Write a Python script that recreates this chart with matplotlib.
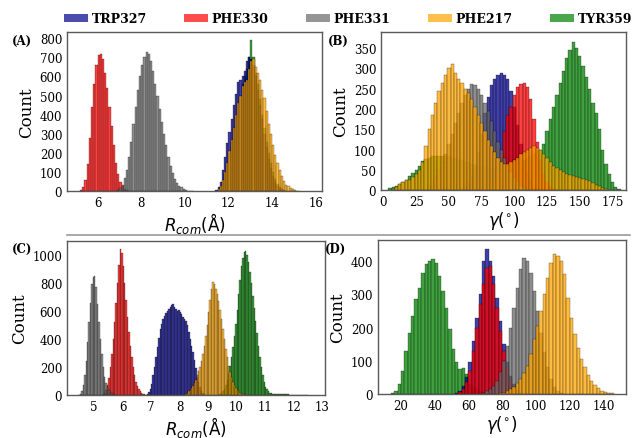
import numpy as np
import matplotlib
matplotlib.use("Agg")
import matplotlib.pyplot as plt
from matplotlib.patches import Patch
from matplotlib.lines import Line2D

plt.rcParams['font.family'] = ['DejaVu Serif']
plt.rcParams['mathtext.fontset'] = 'dejavusans'

NAMES = ['TRP327', 'PHE330', 'PHE331', 'PHE217', 'TYR359']
COLORS = {'TRP327': 'darkblue', 'PHE330': 'red', 'PHE331': 'dimgray',
          'PHE217': 'orange', 'TYR359': 'green'}

# ---- panel A : R_com, bin width 0.1 A, (first bin left edge, counts)
A_STEP = 0.1
A_TRP327 = (11.4, [5, 20, 50, 110, 180, 250, 310, 380, 450, 510, 570, 580, 600, 630, 680, 700,
                   690, 660, 600, 530, 450, 380, 300, 230, 170, 120, 80, 50, 30, 18, 10, 5])
A_PHE330 = (5.2, [5, 20, 60, 140, 280, 440, 560, 660, 710, 720, 690, 620, 540, 440, 340, 240,
                  150, 90, 50, 25, 12, 6, 3])
A_PHE331 = (6.9, [5, 15, 35, 70, 110, 180, 260, 350, 440, 530, 600, 660, 700, 730, 720, 680,
                  630, 560, 500, 430, 360, 300, 240, 180, 130, 95, 65, 45, 30, 20, 12, 8, 4, 3, 2])
A_PHE217 = (11.4, [3, 10, 30, 60, 100, 150, 210, 270, 330, 400, 460, 500, 550, 570, 580, 640,
                   680, 690, 650, 620, 580, 530, 490, 420, 350, 300, 240, 190, 150, 110, 80, 55,
                   35, 25, 15, 10, 6, 4, 2])
A_TYR359 = (11.5, [5, 20, 50, 90, 140, 200, 260, 320, 390, 450, 500, 560, 600, 640, 700, 790,
                   700, 620, 560, 480, 400, 330, 260, 200, 150, 100, 65, 40, 22, 12, 6])

# ---- panel B : gamma, bin width 2.5 deg
B_STEP = 2.5
B_TRP327 = (58.75, [5, 10, 20, 35, 60, 95, 140, 190, 230, 260, 275, 285, 290, 285, 275, 245,
                    205, 160, 115, 75, 45, 25, 12, 5])
B_PHE330 = (78.75, [5, 12, 25, 50, 90, 145, 185, 205, 235, 255, 262, 265, 255, 225, 175, 120,
                    75, 40, 20, 8, 3])
B_PHE331 = (33.75, [10, 20, 35, 50, 70, 90, 115, 140, 165, 190, 215, 235, 250, 262, 260, 250,
                    235, 215, 195, 170, 145, 120, 100, 80, 60, 45, 30, 20, 12, 6, 3])
B_PHE217 = (6.25, [3, 8, 15, 20, 25, 25, 32, 40, 50, 70, 110, 150, 185, 215, 245, 265, 285, 300,
                   310, 290, 275, 265, 250, 240, 225, 205, 185, 165, 145, 125, 110, 95, 80, 70,
                   65, 65, 70, 75, 80, 90, 95, 100, 105, 110, 105, 100, 90, 80, 70, 60, 55, 50,
                   45, 40, 38, 35, 32, 30, 28, 25, 22, 18, 14, 10, 6, 3])
B_TYR359 = (3.75, [5, 8, 12, 15, 20, 25, 35, 42, 50, 60, 72, 78, 80, 85, 85, 85, 85, 85, 85,
                   80, 80, 75, 75, 70, 70, 65, 65, 60, 60, 58, 55, 55, 55, 55, 55, 55, 58, 60,
                   62, 65, 70, 75, 80, 85, 90, 100, 100, 115, 145, 175, 205, 235, 265, 295,
                   325, 345, 365, 350, 330, 305, 280, 250, 215, 190, 150, 100, 65, 40, 20, 8, 3])

# ---- panel C : R_com, bin width 0.05 A
C_STEP = 0.05
C_TRP327 = (6.8, [3, 8, 20, 40, 80, 140, 200, 270, 340, 410, 470, 510, 540, 565, 585, 600, 615,
                  625, 640, 648, 630, 615, 600, 605, 590, 575, 560, 545, 530, 500, 450, 400,
                  350, 310, 250, 190, 130, 90, 55, 30, 15, 6])
C_PHE330 = (5.3, [5, 15, 35, 70, 120, 200, 290, 400, 520, 660, 800, 930, 1040, 1010, 920, 800,
                  680, 560, 450, 350, 270, 200, 140, 95, 65, 40, 25, 15, 8, 4])
C_PHE331 = (4.45, [3, 10, 30, 70, 140, 240, 380, 520, 660, 790, 840, 850, 770, 650, 520, 400,
                   290, 200, 130, 85, 55, 35, 20, 12, 6, 3])
C_PHE217 = (8.15, [3, 8, 15, 25, 35, 50, 65, 85, 110, 140, 170, 200, 240, 290, 350, 420, 500,
                   590, 680, 760, 810, 790, 760, 720, 670, 610, 540, 470, 400, 330, 270, 210,
                   165, 125, 95, 70, 50, 35, 25, 16, 10, 6, 3])
C_TYR359 = (9.4, [5, 12, 25, 45, 70, 105, 150, 205, 270, 340, 420, 510, 610, 720, 820, 920, 980,
                  1020, 1030, 1000, 950, 880, 800, 710, 620, 530, 440, 350, 270, 200, 140, 95,
                  60, 40, 26, 17, 12, 9, 8, 7, 6, 6, 5, 5, 5, 4, 4, 4, 4, 3, 3, 3, 3, 3, 3, 2,
                  2, 2, 2, 2, 1, 1])

# ---- panel D : gamma, bin width 2 deg
D_STEP = 2
D_TRP327 = (52, [3, 10, 25, 50, 95, 160, 230, 300, 400, 435, 400, 355, 290, 220, 150, 95, 55,
                 30, 12, 4])
D_PHE330 = (54, [5, 15, 35, 70, 130, 200, 270, 330, 380, 385, 330, 260, 190, 130, 80, 45, 22,
                 10, 4])
D_PHE331 = (68, [3, 8, 15, 25, 40, 65, 100, 145, 200, 260, 320, 375, 410, 400, 365, 310, 250,
                 185, 125, 80, 45, 22, 10, 4])
D_PHE217 = (78, [2, 4, 8, 14, 22, 32, 45, 62, 85, 120, 165, 205, 250, 300, 350, 395, 420, 415,
                 400, 360, 290, 230, 180, 140, 105, 80, 58, 40, 27, 17, 10, 6, 3, 2])
D_TYR359 = (14, [3, 10, 30, 70, 130, 185, 235, 285, 320, 365, 390, 400, 405, 395, 355, 310, 260,
                 195, 135, 95, 75, 78, 60, 30, 20, 14, 10, 6, 4, 2])

DRAW_ORDER = ['TYR359', 'TRP327', 'PHE330', 'PHE331', 'PHE217']


def draw_panel(ax, step, series, xlim, ylim, xticks, yticks, xlabel, tag):
    for name in DRAW_ORDER:
        start, counts = series[name]
        left = start + step * np.arange(len(counts))
        ax.bar(left, counts, width=step, align='edge', color=COLORS[name],
               alpha=0.75, edgecolor='black', linewidth=0.25)
    ax.set_xlim(*xlim)
    ax.set_ylim(*ylim)
    ax.set_xticks(xticks)
    ax.set_yticks(yticks)
    ax.tick_params(length=0, labelsize=8.5, pad=3.5)
    for s in ax.spines.values():
        s.set_color('0.35')
        s.set_linewidth(1.0)
    ax.set_xlabel(xlabel, fontsize=12, labelpad=0.5)
    ax.set_ylabel('Count', fontsize=12, labelpad=3)
    ax.text(-0.215, 0.99, tag, transform=ax.transAxes, fontsize=8.5,
            fontweight='bold', ha='left', va='top')


fig = plt.figure(figsize=(6.32, 4.39), dpi=100)
axA = fig.add_axes([0.106, 0.562, 0.404, 0.363])
axB = fig.add_axes([0.603, 0.564, 0.388, 0.361])
axC = fig.add_axes([0.106, 0.098, 0.408, 0.351])
axD = fig.add_axes([0.598, 0.100, 0.393, 0.351])

r_lab = r'$R_{com}(\mathrm{\AA})$'
g_lab = r'$\gamma(^{\circ})$'

draw_panel(axA, A_STEP, {'TRP327': A_TRP327, 'PHE330': A_PHE330, 'PHE331': A_PHE331,
                         'PHE217': A_PHE217, 'TYR359': A_TYR359},
           (4.6, 16.3), (0, 833), range(6, 17, 2), range(0, 801, 100), r_lab, '(A)')
draw_panel(axB, B_STEP, {'TRP327': B_TRP327, 'PHE330': B_PHE330, 'PHE331': B_PHE331,
                         'PHE217': B_PHE217, 'TYR359': B_TYR359},
           (-1.8, 185.5), (0, 390), range(0, 176, 25), range(0, 351, 50), g_lab, '(B)')
draw_panel(axC, C_STEP, {'TRP327': C_TRP327, 'PHE330': C_PHE330, 'PHE331': C_PHE331,
                         'PHE217': C_PHE217, 'TYR359': C_TYR359},
           (4.05, 13.1), (0, 1100), range(5, 14), range(0, 1001, 200), r_lab, '(C)')
draw_panel(axD, D_STEP, {'TRP327': D_TRP327, 'PHE330': D_PHE330, 'PHE331': D_PHE331,
                         'PHE217': D_PHE217, 'TYR359': D_TYR359},
           (6.4, 153.5), (0, 463), range(20, 141, 20), range(0, 401, 100), g_lab, '(D)')

# separator between the two rows
fig.add_artist(Line2D([0.106, 0.997], [0.462, 0.462], color='0.6', linewidth=1.2))

handles = [Patch(facecolor=COLORS[n], alpha=0.7, label=n) for n in NAMES]
fig.legend(handles=handles, loc='center', bbox_to_anchor=(0.551, 0.955), ncol=5,
           frameon=False, prop={'weight': 'bold', 'size': 9}, handlelength=1.9,
           handleheight=0.6, handletextpad=0.3, columnspacing=3.0)

fig.savefig('out.png', dpi=100)
